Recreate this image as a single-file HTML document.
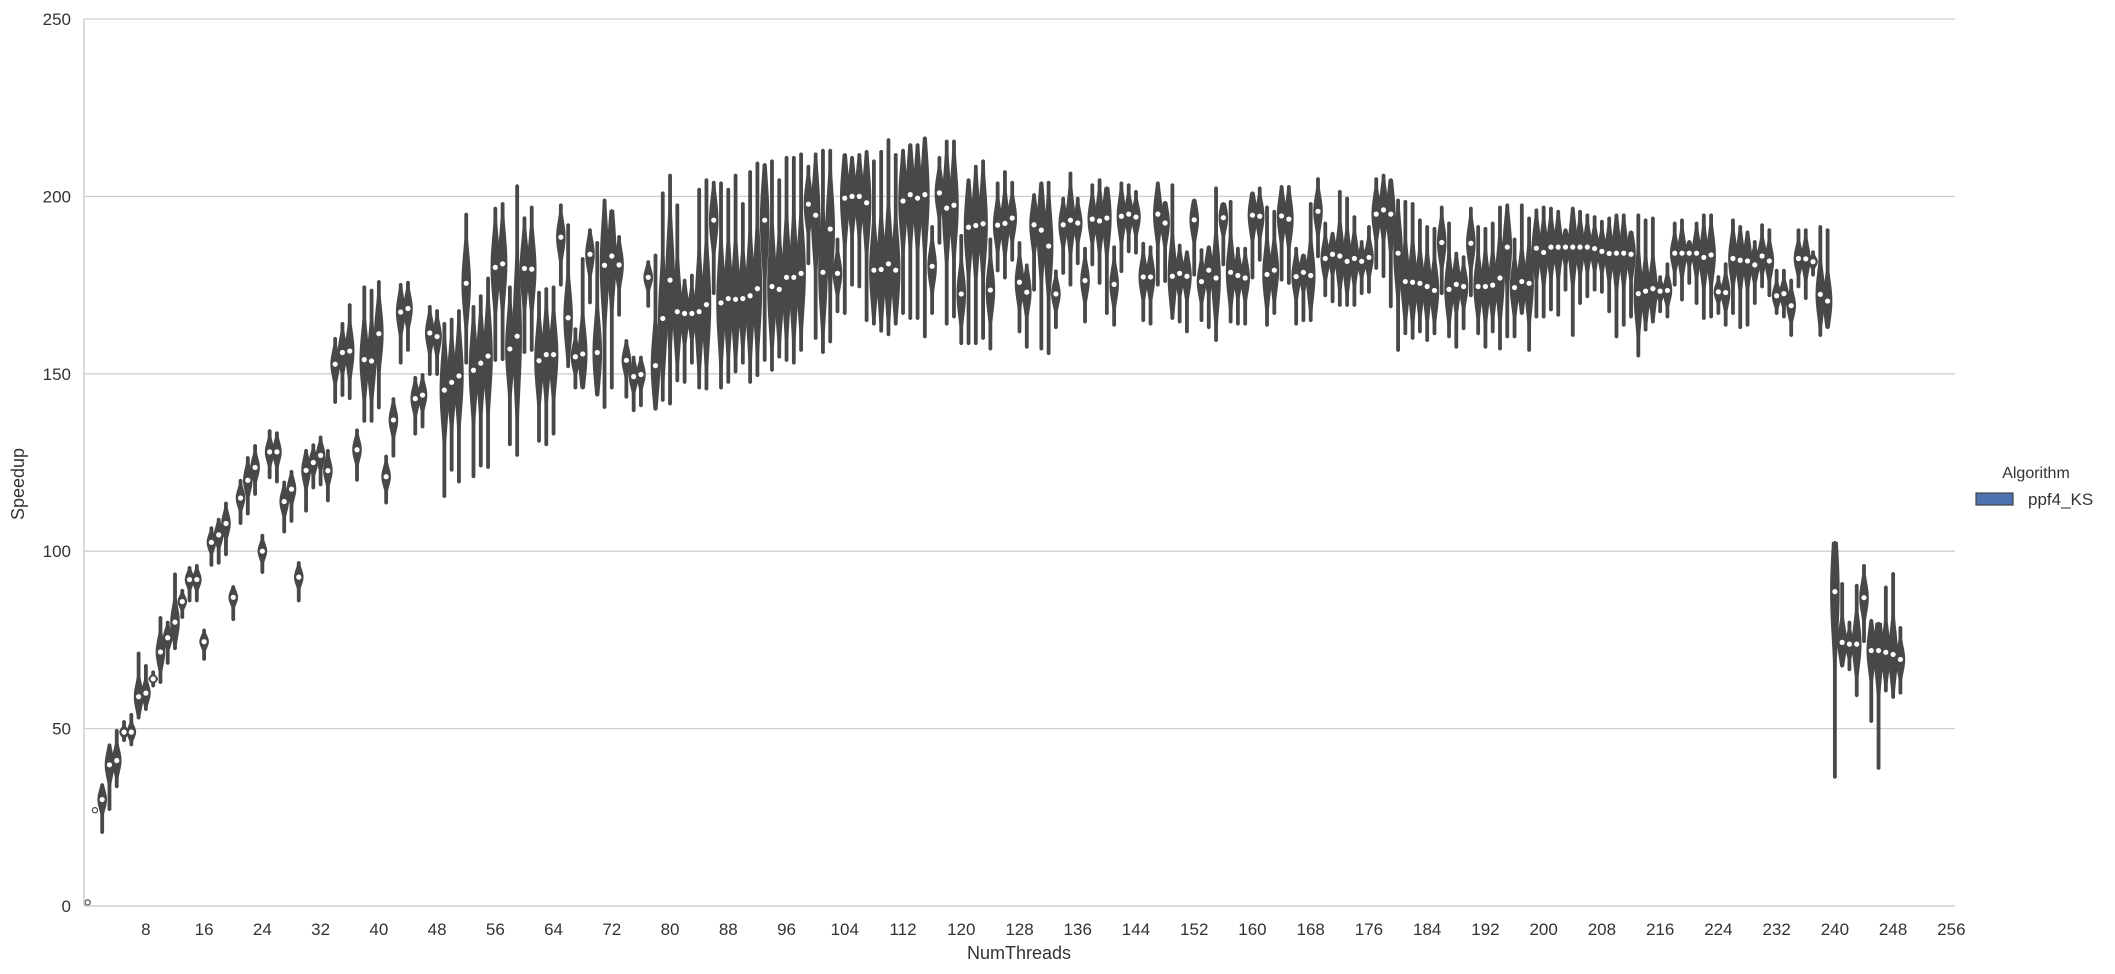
<!DOCTYPE html>
<html><head><meta charset="utf-8">
<style>
html,body{margin:0;padding:0;background:#fff;}
svg{display:block;font-family:"Liberation Sans","DejaVu Sans",sans-serif;}
</style></head>
<body>
<svg id="chart" width="2115" height="974" viewBox="0 0 2115 974" xmlns="http://www.w3.org/2000/svg">
  <g id="grid"></g>
  <g id="violins"></g>
  <g id="axes"></g>
  <text x="24" y="484" font-size="18" fill="#333" text-anchor="middle" transform="rotate(-90 24 484)">Speedup</text>
  <text x="1019" y="959" font-size="18" fill="#333" text-anchor="middle">NumThreads</text>
  <g>
    <text x="2036" y="478" font-size="16" fill="#333" text-anchor="middle">Algorithm</text>
    <rect x="1976" y="493" width="37" height="12" fill="#4c72b0" stroke="#444" stroke-width="1.2"/>
    <text x="2028" y="505" font-size="17" fill="#333">ppf4_KS</text>
  </g>
</svg>
<script>
const nCategories = 257;
const yTicks = [0,50,100,150,200,250];
const xTickLabels = [8,16,24,32,40,48,56,64,72,80,88,96,104,112,120,128,136,144,152,160,168,176,184,192,200,208,216,224,232,240,248,256];
const medians = [1,27,30,39.8,41,49,49,59,60,64,71.6,75.6,80,85.8,92,92,74.5,102.5,104.6,107.8,87,115,120,123.6,100,128,128,114,117.5,92.7,122.8,125,127,122.7,152.7,156,156.4,128.6,154,153.6,161.3,121,137,167.4,168.4,143,144,161.5,160.5,145.4,147.6,149.4,
175.5,151,153,155,180,181,157,160.6,179.7,179.5,153.7,155.4,155.4,188.5,165.8,154.8,155.6,183.7,156,180.6,183.2,180.7,153.8,149.2,149.8,177.2,152.3,165.6,176.4,167.5,167,167,167.5,169.5,193.3,170,171.2,171,171.2,172,174,193.3,174.6,173.8,177.2,177.2,178.3,197.8,194.7,178.6,190.8,178.3,
199.5,200,200,198.2,179.2,179.4,181,179.2,198.7,200.5,199.5,200.5,180.3,201,196.7,197.5,172.5,191.3,191.8,192.3,173.6,191.9,192.4,193.9,175.8,173,192,190.5,186,172.5,192,193.3,192.5,176.3,193.6,193.1,193.9,175.2,194.4,195,194.2,177.3,177.3,195,192.5,177.5,178.3,177.5,193.4,176,179.2,177,
194,178.6,177.7,177,194.7,194.4,178,179.2,194.5,193.6,177.4,178.6,177.7,195.8,182.5,183.7,183.2,181.7,182.5,181.7,182.8,195,196.2,195,184,176,175.8,175.5,174.6,173.5,187,173.8,175.2,174.6,186.8,174.6,174.6,175,177,185.7,174.3,176,175.5,185.4,184.2,185.7,185.7,185.7,185.7,185.7,185.7,
185.3,184.5,183.9,184,184,183.7,172.6,173.3,174,173.3,173.5,184,184,184,184,182.8,183.5,173.1,172.9,182.5,182,181.8,180.7,183.2,181.8,172,172.6,169.2,182.5,182.4,181.6,172.4,170.5,
88.6,74.3,73.8,73.8,86.9,72,72,71.5,70.9,69.5];
const lows = [0.5,26,20.7,27.2,33.6,46.6,45.4,53,55.4,62,63,68.4,72.5,81.3,86,86,69.5,96,96.6,99,80.7,107.8,110.5,116,94,120.7,119.5,105.4,108.4,86,111.3,117.8,118.7,114.2,141.9,143.9,143,120,136.6,136.6,140.4,113.6,126.8,153,156.6,133,135,149.8,149.8,115.4,122.8,119.5,
153,121,124,123.6,153.8,154,130,127,156,156.6,131,130,133,175,152,146,146,170,144,140.5,146,166.5,143.4,139.6,141,169,140,142.5,141.5,148,147.6,153,146,145.7,172.6,146,147.6,150.5,153,147.6,149.5,153.8,151,154.7,153.8,153,156.6,181,160,156,159,167.5,
167,175,174.5,165,164,162,161,164,167,165.6,165.6,160.4,167,186.8,164,166,158.5,158.5,158.5,160,157,179,177,182,161.8,157.5,173.6,157,155.7,163,178.3,175,181,164.6,180.7,175.5,167,163.7,178.8,184.4,184,165,164,175,176,165.6,164.6,161.8,177.8,165,163,159.4,
180.7,164.6,164,164,177,182,163.7,167,176.4,175.5,164,165,165,183,172,170.3,169.3,169.3,169.3,172.6,173,179.7,177.4,168.9,156.6,161.3,160,161.8,159.4,161.3,172.6,160.4,157.5,162.7,172,161.3,157.5,161.8,157,160.4,160.4,167,156.6,166,166,168,166.5,173.6,160.8,169.8,171.7,
173.6,173,167.5,160.4,163.7,166,155,162.3,164.6,167.5,166,175,170.8,175.5,169.8,165.6,166,167,163.7,167,163,163.7,169.8,174.5,172,167,166,160.8,174.5,171.2,177.8,160.8,163,
36.3,67.6,66.6,59.3,74.5,52,38.8,60.6,58.8,60];
const highs = [1.5,28,34.2,45.4,49.5,52,54,71.3,67.8,66,81.3,80,93.6,89,95.4,96,77.8,106.6,109,113.6,90,120,126.4,129.8,104.5,134,133.4,119.5,122.5,96.8,128.4,130,132.2,128.4,160,164.2,169.5,134.2,174.5,173.6,176,126.8,143,175.2,175.8,149,149.8,169,167.8,164.2,165.4,167.8,
195,169,172,177,196.7,198,174.5,203,194,197,173,174,174.5,197.6,192,162.7,182.5,190.6,187,199,196,188.7,159.4,154.7,154.7,181.6,183.5,201,206,197.6,176.4,177.8,202,204.7,204,203.8,202,206,198,207,209.4,209,210,204.7,211,211,212,208.5,212,213,213,188,
211.8,211,211.8,212.7,210,212.7,216,211.8,213,214.6,214.6,216.5,191.5,211,215.6,215.6,189,204.7,208.5,210,188,203.8,207,204,187,180.7,200.5,203.8,204,179,199.5,206.6,199.5,185.4,203.3,204.7,202.4,185.8,203.8,203.3,201.4,186.8,185.8,203.8,198.3,203.3,186.3,184.4,199,185,185.8,202.4,
198,198.6,185.4,185.4,201,202.4,197,195.8,202.8,202.8,185.4,183.5,198,205,192.5,189.6,201.4,199.5,194.3,187.3,191.5,205,206,204.7,199,198.6,198,193.4,191.5,191,197,192.5,184,183,196.7,191.5,191,192.5,197,197.6,188,197.6,193.9,196.2,197,196.7,195.8,190.6,196.7,195.8,194.8,
194.3,193,193.9,194.8,194.8,190,194.8,193.4,193.9,177.4,181,192.5,193.4,187.3,192.5,194.8,194.8,177.4,181,193.4,191.5,190,187.3,192,190.6,179.2,179.2,176.4,190.6,190.6,184.4,191.5,190.6,
102.5,90.9,80,90.4,96,80.5,79.7,89.9,93.7,78.5];

const NS='http://www.w3.org/2000/svg';
const X0=84, X1=1955, Y0=906, Y250=19;
const bw=(X1-X0)/nCategories;
function xScale(i){return X0+(i+0.5)*bw;}
function yScale(v){return Y0-(v/250)*(Y0-Y250);}
function mk(tag,attrs,parent){const e=document.createElementNS(NS,tag);for(const k in attrs)e.setAttribute(k,attrs[k]);parent.appendChild(e);return e;}

const grid=document.getElementById('grid');
const axes=document.getElementById('axes');
yTicks.forEach(v=>{
  if(v>0){
    const l=mk('line',{x1:X0,x2:X1,y1:yScale(v),y2:yScale(v),stroke:'#cfcfcf','stroke-width':1.3},grid);
    
    
  }
  const t=mk('text',{x:X0-13,y:yScale(v)+6,'font-size':17,fill:'#333','text-anchor':'end'},axes);
  t.textContent=v;
  
  
});
const sp1=mk('line',{x1:X0,x2:X0,y1:Y250,y2:Y0,stroke:'#cfcfcf','stroke-width':1.5},axes);


const sp2=mk('line',{x1:X0,x2:X1,y1:Y0,y2:Y0,stroke:'#cfcfcf','stroke-width':1.5},axes);


xTickLabels.forEach(c=>{
  const t=mk('text',{x:xScale(c),y:935,'font-size':17,fill:'#333','text-anchor':'middle'},axes);
  t.textContent=c;
  
  
});

const vg=document.getElementById('violins');
const col='#484848';
for(let i=0;i<medians.length;i++){
  const m=medians[i],lo=lows[i],hi=highs[i];
  if(m==null)continue;
  const g=mk('g',{},vg);
  
  
  const cx=xScale(i);
  const sd=Math.max((hi-lo)/5,0.5);
  const steps=30;const left=[],right=[];
  for(let s=0;s<=steps;s++){
    const v=hi-(hi-lo)*s/steps;
    const z=(v-m)/sd;
    const w=Math.max(1.4,4.3*Math.exp(-0.5*z*z));
    right.push((cx+w).toFixed(2)+','+yScale(v).toFixed(2));
    left.unshift((cx-w).toFixed(2)+','+yScale(v).toFixed(2));
  }
  if(hi-lo>2){
    const p=mk('polygon',{points:right.concat(left).join(' '),fill:col,stroke:col,'stroke-width':1},g);
    
    
    const ln=mk('line',{x1:cx,x2:cx,y1:yScale(hi),y2:yScale(lo),stroke:col,'stroke-width':3,'stroke-linecap':'round'},g);
    
    
  }
  const d=mk('circle',{cx:cx,cy:yScale(m),r:2.6,fill:'#fff',stroke:(hi-lo>2?'none':col),'stroke-width':1.2},g);
  
  
}
</script>
</body></html>
